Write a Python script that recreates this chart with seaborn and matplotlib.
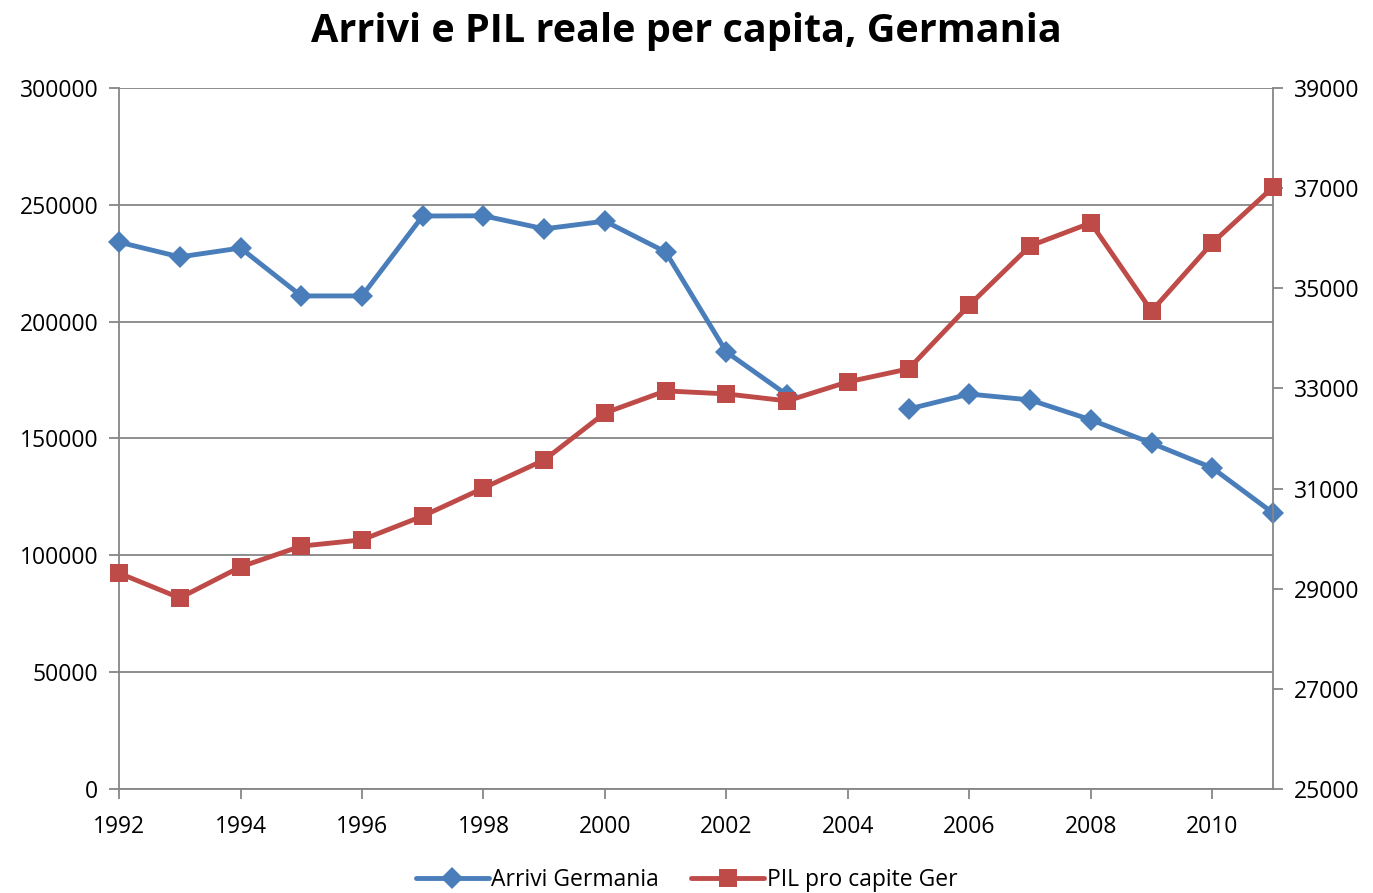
import numpy as np
import pandas as pd
import matplotlib
matplotlib.use("Agg")
import matplotlib.pyplot as plt
from matplotlib.lines import Line2D
import seaborn as sns

years = list(range(1992, 2012))
arrivi = [234000, 227700, 231500, 211000, 211000, 245200, 245300, 239700, 243000, 229800,
          187000, 168600, np.nan, 162600, 169000, 166500, 158000, 148000, 137400, 118100]
pil = [29310, 28815, 29435, 29850, 29975, 30450, 31010, 31570, 32510, 32950,
       32890, 32750, 33130, 33390, 34665, 35845, 36305, 34545, 35905, 37020]

blue = "#4A7EBB"
red = "#BE4B48"
gray = "#868686"

sns.set_theme(style="white")
plt.rcParams['font.family'] = ['Open Sans', 'DejaVu Sans']
plt.rcParams['text.color'] = 'black'

# split arrivals into segments so the 2004 gap stays open
seg = np.cumsum(pd.isna(pd.Series(arrivi)).astype(int)).tolist()
df_a = pd.DataFrame({"anno": years, "arrivi": arrivi, "seg": seg}).dropna()
df_p = pd.DataFrame({"anno": years, "pil": pil})

fig = plt.figure(figsize=(13.73, 8.93), dpi=100)
ax = fig.add_axes([0.0867, 0.1165, 0.8405, 0.785])
ax2 = ax.twinx()

sns.lineplot(data=df_a, x="anno", y="arrivi", units="seg", estimator=None, ax=ax,
             color=blue, lw=3.5, marker="D", markersize=11, markeredgewidth=0,
             legend=False, clip_on=False, zorder=3)
sns.lineplot(data=df_p, x="anno", y="pil", estimator=None, ax=ax2,
             color=red, lw=3.5, marker="s", markersize=13, markeredgewidth=0,
             legend=False, clip_on=False, zorder=3)

ax.set_xlim(1992, 2011)
ax.set_ylim(0, 300000)
ax2.set_ylim(25000, 39000)
ax.set_xticks(range(1992, 2011, 2))
ax.set_yticks(range(0, 300001, 50000))
ax2.set_yticks(range(25000, 39001, 2000))
ax.yaxis.grid(True, color=gray, lw=1.3)
ax.set_axisbelow(True)
ax.set_xlabel("")
ax.set_ylabel("")
ax2.set_ylabel("")

for a in (ax, ax2):
    for s in a.spines.values():
        s.set_visible(False)
    a.tick_params(labelsize=16.5, colors="black", length=7, width=1.3, color=gray)
ax.spines["left"].set_visible(True)
ax.spines["bottom"].set_visible(True)
ax2.spines["right"].set_visible(True)
for s in (ax.spines["left"], ax.spines["bottom"], ax2.spines["right"]):
    s.set_color(gray)
    s.set_linewidth(1.3)
ax.tick_params(axis="x", bottom=True, pad=12)
ax.tick_params(axis="y", left=True, pad=8)
ax2.tick_params(axis="y", right=True, pad=8)

fig.suptitle("Arrivi e PIL reale per capita, Germania", fontsize=28.5, fontweight="bold",
             color="black", y=0.987)

handles = [Line2D([], [], color=blue, lw=3.5, marker="D", markersize=11, markeredgewidth=0),
           Line2D([], [], color=red, lw=3.5, marker="s", markersize=13, markeredgewidth=0)]
fig.legend(handles, ["Arrivi Germania", "PIL pro capite Ger"], loc="lower center",
           bbox_to_anchor=(0.5, -0.022), ncol=2, frameon=False, fontsize=16.5,
           handlelength=3.2, handletextpad=0.1, columnspacing=1.4)

fig.savefig("out.png", dpi=100)
